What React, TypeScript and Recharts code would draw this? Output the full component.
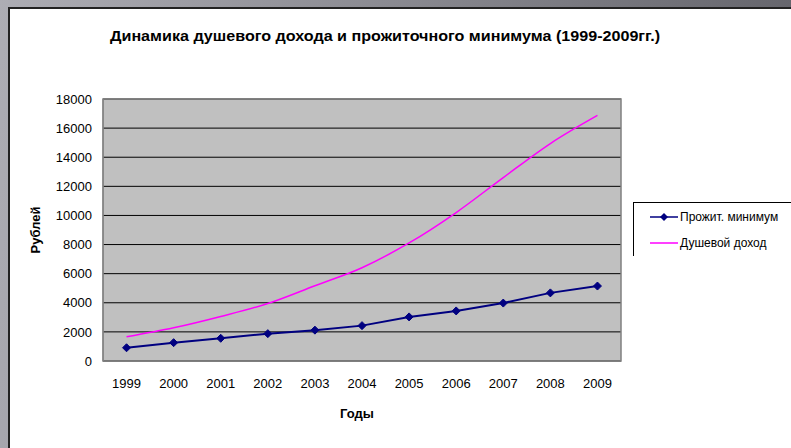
import React from 'react';
import { LineChart, Line, XAxis, YAxis, CartesianGrid, ReferenceArea } from 'recharts';

const years = [1999, 2000, 2001, 2002, 2003, 2004, 2005, 2006, 2007, 2008, 2009];
const minimum = [910, 1260, 1560, 1880, 2120, 2430, 3030, 3440, 3980, 4680, 5150];
const income = [1660, 2280, 3060, 3950, 5170, 6410, 8110, 10200, 12600, 14940, 16870];
const yTicks = [0, 2000, 4000, 6000, 8000, 10000, 12000, 14000, 16000, 18000];

const MIN_NAME = 'Прожит. минимум';
const INCOME_NAME = 'Душевой доход';

const data = years.map((year, i) => ({ year, minimum: minimum[i], income: income[i] }));
const edges = [...years.map((y) => y - 0.5), years[years.length - 1] + 0.5];

const FONT = '"Liberation Sans", Arial, sans-serif';

const Diamond = (props: any) => {
  const { cx, cy } = props;
  if (cx == null || cy == null) return null;
  const r = 4;
  return (
    <polygon
      points={`${cx},${cy - r} ${cx + r},${cy} ${cx},${cy + r} ${cx - r},${cy}`}
      fill="#000080"
      stroke="#000080"
    />
  );
};

const LegendBox = () => (
  <div
    style={{
      position: 'absolute',
      left: 633,
      top: 202,
      borderLeft: '1px solid #000',
      borderTop: '1px solid #000',
      width: 160,
      height: 54,
      fontFamily: FONT,
      fontSize: 12,
      color: '#000',
      boxSizing: 'border-box',
      paddingTop: 6,
    }}
  >
    <div style={{ display: 'flex', alignItems: 'center', height: 16, marginLeft: 16 }}>
      <svg width={28} height={10}>
        <line x1={0} y1={5} x2={28} y2={5} stroke="#000080" strokeWidth={1.5} />
        <polygon points="14,1 18,5 14,9 10,5" fill="#000080" />
      </svg>
      <span style={{ marginLeft: 2 }}>{MIN_NAME}</span>
    </div>
    <div style={{ display: 'flex', alignItems: 'center', height: 16, marginLeft: 16, marginTop: 10 }}>
      <svg width={28} height={10}>
        <line x1={0} y1={5} x2={28} y2={5} stroke="#ff00ff" strokeWidth={1.5} />
      </svg>
      <span style={{ marginLeft: 2 }}>{INCOME_NAME}</span>
    </div>
  </div>
);

export default function App() {
  return (
    <div
      style={{
        position: 'fixed',
        left: 0,
        top: 0,
        width: 791,
        height: 448,
        overflow: 'hidden',
        background: 'linear-gradient(100deg, #adadb4 0%, #8e8e95 40%, #5f5f66 100%)',
      }}
    >
      <div
        style={{
          position: 'absolute',
          left: 8,
          top: 7,
          width: 800,
          height: 460,
          background: '#fff',
          borderLeft: '2px solid #222',
          borderTop: '2px solid #222',
        }}
      />
      <div style={{ position: 'absolute', left: 0, top: 0 }}>
        <LineChart width={791} height={448} data={data} margin={{ top: 99, right: 170, bottom: 57, left: 43 }}>
          <text
            x={385}
            y={41}
            textAnchor="middle"
            fontFamily={FONT}
            fontSize={15}
            fontWeight="bold"
            fill="#000"
            textLength={550}
            lengthAdjust="spacingAndGlyphs"
          >
            Динамика душевого дохода и прожиточного минимума (1999-2009гг.)
          </text>
          <text
            x={40}
            y={230}
            textAnchor="middle"
            transform="rotate(-90 40 230)"
            fontFamily={FONT}
            fontSize={13}
            fontWeight="bold"
            fill="#000"
          >
            Рублей
          </text>
          <text x={357} y={418} textAnchor="middle" fontFamily={FONT} fontSize={13} fontWeight="bold" fill="#000">
            Годы
          </text>
          <CartesianGrid vertical={false} stroke="#000" fill="#c0c0c0" />
          <XAxis
            xAxisId="edges"
            dataKey="year"
            type="number"
            domain={[edges[0], edges[edges.length - 1]]}
            ticks={edges}
            tick={false}
            tickSize={5}
            axisLine={{ stroke: '#808080' }}
            tickLine={{ stroke: '#808080' }}
            height={0}
          />
          <XAxis
            dataKey="year"
            type="number"
            domain={[edges[0], edges[edges.length - 1]]}
            ticks={years}
            axisLine={false}
            tickLine={false}
            tickMargin={12}
            height={30}
            tick={{ fontFamily: FONT, fontSize: 13, fill: '#000' }}
          />
          <YAxis
            domain={[0, 18000]}
            ticks={yTicks}
            width={60}
            tickLine={false}
            tickSize={0}
            tickMargin={11}
            axisLine={{ stroke: '#808080' }}
            tick={{ fontFamily: FONT, fontSize: 13, fill: '#000' }}
          />
          <ReferenceArea
            x1={edges[0]}
            x2={edges[edges.length - 1]}
            y1={0}
            y2={18000}
            fill="none"
            stroke="#808080"
            strokeWidth={1.5}
          />
          <Line
            type="linear"
            dataKey="minimum"
            name={MIN_NAME}
            stroke="#000080"
            strokeWidth={2}
            dot={<Diamond />}
            activeDot={false}
            isAnimationActive={false}
          />
          <Line
            type="monotone"
            dataKey="income"
            name={INCOME_NAME}
            stroke="#ff00ff"
            strokeWidth={1.5}
            dot={false}
            activeDot={false}
            isAnimationActive={false}
          />
        </LineChart>
      </div>
      <LegendBox />
    </div>
  );
}
